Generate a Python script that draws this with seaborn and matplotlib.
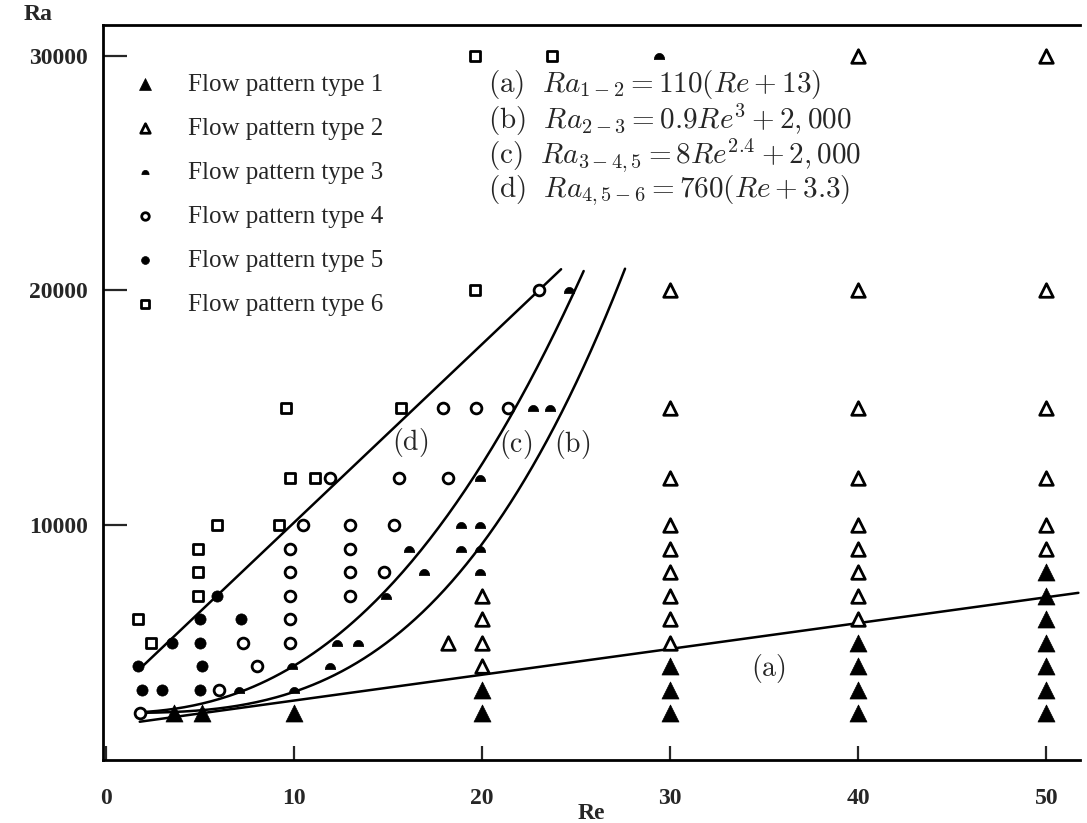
import numpy as np
import pandas as pd
import matplotlib
matplotlib.use('Agg')
import matplotlib.pyplot as plt
from matplotlib.path import Path
import seaborn as sns

type1_re = [3.6, 5.1, 10, 20, 20, 30, 30, 30, 40, 40, 40, 40,
            50, 50, 50, 50, 50, 50, 50]
type1_ra = [2000, 2000, 2000, 3000, 2000, 4000, 3000, 2000, 5000, 4000, 3000, 2000,
            8000, 7000, 6000, 5000, 4000, 3000, 2000]

type2_re = [18.2, 20, 20, 20, 20,
            30, 30, 30, 30, 30, 30, 30, 30, 30,
            40, 40, 40, 40, 40, 40, 40, 40, 40,
            50, 50, 50, 50, 50, 50]
type2_ra = [5000, 7000, 6000, 5000, 4000,
            20000, 15000, 12000, 10000, 9000, 8000, 7000, 6000, 5000,
            30000, 20000, 15000, 12000, 10000, 9000, 8000, 7000, 6000,
            30000, 20000, 15000, 12000, 10000, 9000]

type3_re = [7.1, 9.9, 10.0, 11.9, 12.3, 13.4, 14.9, 16.1, 16.9, 18.9, 19.9,
            18.9, 19.9, 19.9, 19.9, 22.7, 23.6, 24.6, 29.4]
type3_ra = [3000, 4000, 3000, 4000, 5000, 5000, 7000, 9000, 8000, 10000, 10000,
            9000, 9000, 8000, 12000, 15000, 15000, 20000, 30000]

type4_re = [1.8, 6.0, 8.05, 7.3, 9.8, 9.8, 9.8, 9.8, 9.8, 10.5, 11.9,
            13.0, 13.0, 13.0, 13.0, 14.8, 15.3, 15.6, 18.2, 17.9, 19.7, 21.4, 23.0]
type4_ra = [2000, 3000, 4000, 5000, 5000, 6000, 7000, 8000, 9000, 10000, 12000,
            10000, 9000, 8000, 7000, 8000, 10000, 12000, 12000, 15000, 15000, 15000, 20000]

type5_re = [1.7, 1.9, 3.0, 5.0, 5.1, 3.5, 5.0, 5.0, 7.2, 5.9]
type5_ra = [4000, 3000, 3000, 3000, 4000, 5000, 5000, 6000, 6000, 7000]

type6_re = [1.7, 2.4, 4.9, 4.9, 4.9, 5.9, 9.2, 9.6, 9.8, 11.1, 15.7, 19.6, 19.6, 23.7]
type6_ra = [6000, 5000, 9000, 8000, 7000, 10000, 10000, 15000, 12000, 12000, 15000,
            20000, 30000, 30000]

# boundary correlations printed on the chart
a_coef, a_off = 110, 13          # Ra = 110(Re + 13)
b_coef, b_pow, b_add = 0.9, 3, 2000
c_coef, c_pow, c_add = 8, 2.4, 2000
d_coef, d_off = 760, 3.3         # Ra = 760(Re + 3.3)
curve_re_start = 1.8
curve_re_end = {'a': 51.7, 'b': 27.6, 'c': 25.4, 'd': 24.2}

equations = [
    r'$\mathrm{(a)}\ \ Ra_{1-2} = 110(Re + 13)$',
    r'$\mathrm{(b)}\ \ Ra_{2-3} = 0.9Re^{3} + 2,000$',
    r'$\mathrm{(c)}\ \ Ra_{3-4,5} = 8Re^{2.4} + 2,000$',
    r'$\mathrm{(d)}\ \ Ra_{4,5-6} = 760(Re + 3.3)$',
]
curve_labels = {'a': (35.2, 3900), 'b': (24.8, 13450), 'c': (21.8, 13450), 'd': (16.2, 13500)}

sns.set_style('ticks')
plt.rcParams['font.family'] = ['Liberation Serif', 'DejaVu Serif']
plt.rcParams['mathtext.fontset'] = 'cm'

fig = plt.figure(figsize=(10.87, 8.23), dpi=100)
ax = fig.add_axes([0.0948, 0.0766, 0.8990, 0.8930])

# dome-shaped marker for pattern type 3
t = np.linspace(0, np.pi, 24)
dome = [(np.cos(v), 1.2 * np.sin(v) - 0.6) for v in t] + [(1.0, -0.6)]
dome_marker = Path(dome)

ms_kw = dict(ax=ax, zorder=3)
sns.scatterplot(x=type1_re, y=type1_ra, marker='^', s=150, color='black',
                edgecolor='black', linewidth=0.5, label='Flow pattern type 1', **ms_kw)
sns.scatterplot(x=type2_re, y=type2_ra, marker='^', s=95, color='white',
                edgecolor='black', linewidth=2.0, label='Flow pattern type 2', **ms_kw)
sns.scatterplot(x=type3_re, y=type3_ra, marker=dome_marker, s=55, color='black',
                edgecolor='black', linewidth=0.5, label='Flow pattern type 3', **ms_kw)
sns.scatterplot(x=type4_re, y=type4_ra, marker='o', s=60, color='white',
                edgecolor='black', linewidth=2.0, label='Flow pattern type 4', **ms_kw)
sns.scatterplot(x=type5_re, y=type5_ra, marker='o', s=65, color='black',
                edgecolor='black', linewidth=0.5, label='Flow pattern type 5', **ms_kw)
sns.scatterplot(x=type6_re, y=type6_ra, marker='s', s=60, color='white',
                edgecolor='black', linewidth=2.0, label='Flow pattern type 6', **ms_kw)

# boundary curves
re_a = np.linspace(curve_re_start, curve_re_end['a'], 200)
re_b = np.linspace(curve_re_start, curve_re_end['b'], 200)
re_c = np.linspace(curve_re_start, curve_re_end['c'], 200)
re_d = np.linspace(curve_re_start, curve_re_end['d'], 200)
curves = [
    (re_a, a_coef * (re_a + a_off)),
    (re_b, b_coef * re_b ** b_pow + b_add),
    (re_c, c_coef * re_c ** c_pow + c_add),
    (re_d, d_coef * (re_d + d_off)),
]
for xs, ys in curves:
    sns.lineplot(x=xs, y=ys, color='black', linewidth=1.8, sort=False,
                 estimator=None, legend=False, ax=ax, zorder=2)

for key, (lx, ly) in curve_labels.items():
    ax.text(lx, ly, r'$\mathrm{(%s)}$' % key, fontsize=20, ha='center', va='center')

eq_y = [0.919, 0.871, 0.823, 0.775]
for txt, yy in zip(equations, eq_y):
    ax.text(0.394, yy, txt, transform=ax.transAxes, fontsize=21, ha='left', va='center')

ax.set_xlim(-0.15, 51.8)
ax.set_ylim(0, 31300)
ax.set_xticks([0, 10, 20, 30, 40, 50])
ax.set_yticks([10000, 20000, 30000])
ax.tick_params(axis='x', direction='in', length=10, width=1.6, pad=20, labelsize=17)
ax.tick_params(axis='y', direction='in', length=17, width=1.6, pad=11, labelsize=17)
for lab in ax.get_xticklabels() + ax.get_yticklabels():
    lab.set_fontweight('bold')

for side in ['left', 'bottom', 'top']:
    ax.spines[side].set_linewidth(2.0)
    ax.spines[side].set_color('black')
ax.spines['right'].set_visible(False)

ax.set_xlabel('Re', fontsize=17, fontweight='bold')
ax.xaxis.set_label_coords(0.5, -0.058)
ax.set_ylabel('Ra', fontsize=17, fontweight='bold', rotation=0, ha='center', va='center')
ax.yaxis.set_label_coords(-0.066, 1.014)

leg = ax.legend(loc='upper left', bbox_to_anchor=(0.0302, 0.9346), frameon=False,
                fontsize=18, labelspacing=0.86, handlelength=1.0, handletextpad=1.22,
                markerscale=0.7, borderaxespad=0, borderpad=0)

fig.savefig('out.png', dpi=100)
